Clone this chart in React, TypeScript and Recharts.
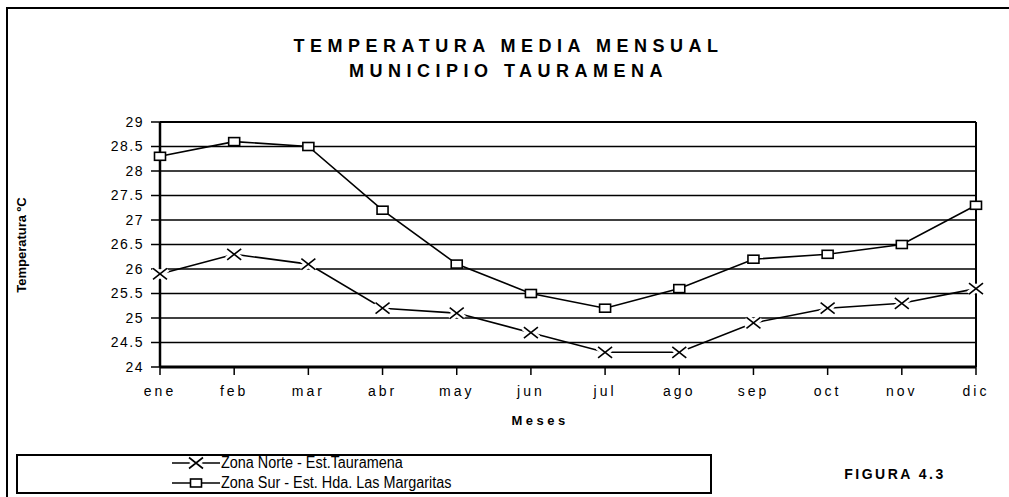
import React from 'react';
import { LineChart, Line, XAxis, YAxis, CartesianGrid, ReferenceLine } from 'recharts';

const months = ['ene', 'feb', 'mar', 'abr', 'may', 'jun', 'jul', 'ago', 'sep', 'oct', 'nov', 'dic'];
const zonaNorte = [25.9, 26.3, 26.1, 25.2, 25.1, 24.7, 24.3, 24.3, 24.9, 25.2, 25.3, 25.6];
const zonaSur = [28.3, 28.6, 28.5, 27.2, 26.1, 25.5, 25.2, 25.6, 26.2, 26.3, 26.5, 27.3];
const yTicks = [24, 24.5, 25, 25.5, 26, 26.5, 27, 27.5, 28, 28.5, 29];

const data = months.map((m, i) => ({ mes: m, norte: zonaNorte[i], sur: zonaSur[i] }));

const font = '"Liberation Sans", Arial, sans-serif';

const CrossDot = (props: any) => {
  const { cx, cy } = props;
  if (cx == null || cy == null) return null;
  const w = 7, h = 5.5;
  const d = `M${cx - w},${cy - h}L${cx + w},${cy + h}M${cx - w},${cy + h}L${cx + w},${cy - h}`;
  return (
    <g>
      <path d={d} stroke="#fff" strokeWidth={7} />
      <path d={d} stroke="#000" strokeWidth={1.6} fill="none" />
    </g>
  );
};

const SquareDot = (props: any) => {
  const { cx, cy } = props;
  if (cx == null || cy == null) return null;
  return <rect x={cx - 5.5} y={cy - 4} width={11} height={8} fill="#fff" stroke="#000" strokeWidth={1.6} />;
};

const LegendBox = () => (
  <div style={{ position: 'absolute', left: 16, top: 454, width: 692, height: 36, border: '2px solid #000', background: '#fff' }}>
    <svg width={60} height={36} style={{ position: 'absolute', left: 152, top: 0 }}>
      <line x1={2} y1={7} x2={50} y2={7} stroke="#000" strokeWidth={1.6} />
      <CrossDot cx={26} cy={7} />
      <line x1={2} y1={27} x2={50} y2={27} stroke="#000" strokeWidth={1.6} />
      <SquareDot cx={26} cy={27} />
    </svg>
    <div style={{ position: 'absolute', left: 203, top: -3, fontFamily: font, fontSize: 16, lineHeight: '20px', color: '#000', transform: 'scaleX(0.9)', transformOrigin: 'left top', whiteSpace: 'nowrap' }}>
      <div>Zona Norte - Est.Tauramena</div>
      <div>Zona Sur - Est. Hda. Las Margaritas</div>
    </div>
  </div>
);

export default function App() {
  return (
    <div style={{ position: 'absolute', left: 0, top: 0, width: 1009, height: 497, background: '#fff', overflow: 'hidden' }}>
      <div style={{ position: 'absolute', left: 6, top: 7, width: 1100, height: 600, borderTop: '2px solid #000', borderLeft: '2px solid #000' }} />
      <div style={{ position: 'absolute', left: 0, width: 1009, top: 34, textAlign: 'center', fontFamily: font, fontWeight: 'bold', fontSize: 18, letterSpacing: 5.5, lineHeight: '25px', color: '#000', paddingLeft: 4 }}>
        <div>TEMPERATURA MEDIA MENSUAL</div>
        <div>MUNICIPIO TAURAMENA</div>
      </div>
      <div style={{ position: 'absolute', left: 6, top: 245, width: 30, height: 0 }}>
        <div style={{ position: 'absolute', left: 15, top: 0, transform: 'translate(-50%, -50%) rotate(-90deg)', whiteSpace: 'nowrap', fontFamily: font, fontWeight: 'bold', fontSize: 13 }}>
          Temperatura ºC
        </div>
      </div>
      <div style={{ position: 'absolute', left: 765, width: 260, top: 466, fontFamily: font, fontWeight: 'bold', fontSize: 14, letterSpacing: 2.5, color: '#000', textAlign: 'center' }}>
        FIGURA 4.3
      </div>
      <div style={{ position: 'absolute', left: 0, top: 0 }}>
        <LineChart width={1009} height={497} data={data} margin={{ top: 122, right: 33, left: 100, bottom: 100 }}>
          <CartesianGrid vertical={false} stroke="#000" strokeWidth={1.3} />
          <XAxis
            dataKey="mes"
            padding={{ left: 0, right: 0 }}
            axisLine={{ stroke: '#000', strokeWidth: 3 }}
            tickLine={{ stroke: '#000', strokeWidth: 1.5 }}
            tickSize={8}
            height={30}
            tick={{ fill: '#000', fontSize: 14, fontFamily: font, letterSpacing: 3 }}
            tickMargin={11}
          />
          <YAxis
            domain={[24, 29]}
            ticks={yTicks}
            interval={0}
            width={60}
            axisLine={{ stroke: '#000', strokeWidth: 2.5 }}
            tickLine={{ stroke: '#000', strokeWidth: 1.5 }}
            tickSize={9}
            tickMargin={7}
            tick={{ fill: '#000', fontSize: 14, fontFamily: font, letterSpacing: 1.5 }}
          />
          <ReferenceLine x="dic" stroke="#000" strokeWidth={2} />
          <ReferenceLine y={29} stroke="#000" strokeWidth={2} />
          <Line dataKey="sur" stroke="#000" strokeWidth={1.6} dot={<SquareDot />} isAnimationActive={false} name="Zona Sur - Est. Hda. Las Margaritas" />
          <Line dataKey="norte" stroke="#000" strokeWidth={1.6} dot={<CrossDot />} isAnimationActive={false} name="Zona Norte - Est.Tauramena" />
        </LineChart>
      </div>
      <div style={{ position: 'absolute', left: 0, width: 1080, top: 413, textAlign: 'center', fontFamily: font, fontWeight: 'bold', fontSize: 13, letterSpacing: 3.5, color: '#000' }}>
        Meses
      </div>
      <LegendBox />
    </div>
  );
}
